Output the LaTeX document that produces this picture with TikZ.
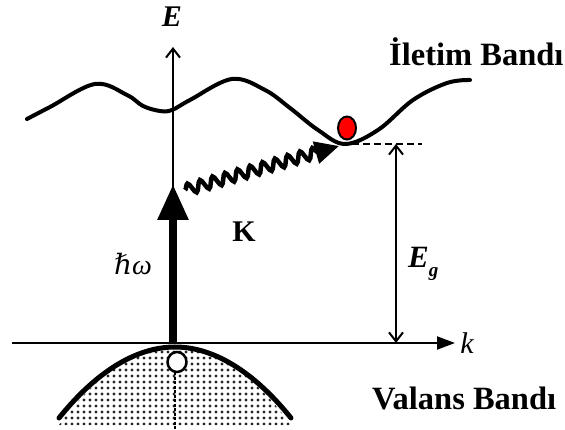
\documentclass[tikz,border=0pt]{standalone}
\usepackage{fontspec}
\setmainfont{Liberation Serif}
\newfontfamily\hbarfont{DejaVu Serif}
\usetikzlibrary{arrows.meta,decorations.pathmorphing,patterns.meta,shapes.geometric}

\tikzset{
  band/.style={line width=4pt, line cap=round},
  axis/.style={line width=2pt},
  lbl/.style={font=\fontsize{32.5}{36}\selectfont\bfseries, inner sep=0pt},
}

\begin{document}
\begin{tikzpicture}[x=1pt, y=-1pt]
  \useasboundingbox (0,0) rectangle (565,430);

  % Axes
  \coordinate (O) at (173,343);
  \coordinate (Etop) at (173,47);
  \coordinate (kl) at (12,343);
  \coordinate (kr) at (455,343);
  \draw[axis, -{Straight Barb[length=9pt,width=14pt,line width=2pt]}] (O) -- (Etop);
  \draw[axis, -{Triangle[length=18pt,width=13pt]}] (kl) -- (kr);
  \node[lbl, font=\fontsize{30}{34}\selectfont\bfseries\itshape] (E) at (172,17) {E};
  \node[lbl, font=\fontsize{30}{34}\selectfont\itshape] (k) at (467,343) {k};

  % Valence band
  \fill[pattern={Dots[distance=6pt,radius=1.6pt]}, pattern color=black!85]
    (59,425) parabola bend (175,347) (291,425) -- cycle;
  \draw[line width=5pt, line cap=round] (59,418) parabola bend (175,347) (291,418);
  \draw[line width=1.2pt, dash pattern=on 3pt off 1.5pt] (175,372) -- (175,430);
  \node[draw, line width=2.5pt, fill=white, ellipse, minimum width=19pt, minimum height=20pt,
        inner sep=0pt] (hole) at (177,362) {};

  % Conduction band
  \draw[band] plot[smooth, tension=0.6] coordinates {(27,119) (50,107) (95,84) (127,95)
    (143,106) (160,111) (172,110) (190,100) (232,79) (265,90) (290,108) (318,130)
    (345,144) (378,130) (413,100) (447,83) (470,80)};
  \node[draw, line width=2pt, fill=red, ellipse, minimum width=18pt, minimum height=23pt,
        inner sep=0pt] (el) at (347,128) {};

  % Photon
  \coordinate (hw0) at (173,343);
  \coordinate (hw1) at (173,184);
  \draw[line width=8.5pt, -{Triangle[length=36pt,width=29pt]}] (hw0) -- (hw1);
  \node[inner sep=0pt, font=\fontsize{28}{32}\selectfont\itshape, anchor=base] (hw) at (133,275)
    {{\hbarfont ℏ}ω};

  % Phonon
  \coordinate (K0) at (185,190);
  \coordinate (K1) at (339,146);
  \draw[line width=4.5pt, -{Triangle[length=24pt,width=22pt]},
        decorate, decoration={snake, segment length=13pt, amplitude=5.5pt, post length=20pt}]
    (K0) -- (K1);
  \node[lbl, font=\fontsize{30}{34}\selectfont\bfseries] (K) at (244,232) {K};

  % Band gap
  \coordinate (gap) at (396,144);
  \coordinate (gapb) at (396,343);
  \draw[line width=1.8pt, dash pattern=on 7pt off 4pt] (352,144) -- (422,144);
  \draw[line width=2pt, {Straight Barb[length=9pt,width=14pt,line width=2pt]}-{Straight Barb[length=9pt,width=14pt,line width=2pt]}]
    (gap) -- (gapb);
  \node[lbl, font=\fontsize{31}{34}\selectfont\bfseries\itshape, anchor=base west] (Eg) at (408,268)
    {E\raisebox{-9pt}{\fontsize{19}{20}\selectfont g}};

  % Band names
  \node[lbl, anchor=base west] (cb) at (389,66) {İletim Bandı};
  \node[lbl, anchor=base west] (vb) at (372,409) {Valans Bandı};
\end{tikzpicture}
\end{document}
